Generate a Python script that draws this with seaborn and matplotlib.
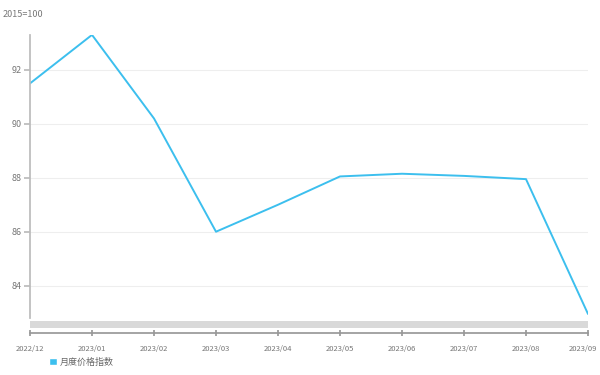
import matplotlib
matplotlib.use("Agg")
import matplotlib.pyplot as plt
import matplotlib.transforms as mtransforms
import seaborn as sns
import pandas as pd
from matplotlib.patches import Rectangle, Patch

# values (2015=100)
months = ["2022/12", "2023/01", "2023/02", "2023/03", "2023/04",
          "2023/05", "2023/06", "2023/07", "2023/08", "2023/09"]
index_values = [91.5, 93.3, 90.2, 86.0, 87.0, 88.05, 88.15, 88.07, 87.95, 82.95]
y_ticks = [84, 86, 88, 90, 92]
series_name = "月度价格指数"
unit_label = "2015=100"
line_color = "#3cbfee"

df = pd.DataFrame({"month": range(len(months)), "value": index_values})

sns.set_theme(style="white")
plt.rcParams["font.family"] = ["Noto Sans CJK SC", "DejaVu Sans"]

fig = plt.figure(figsize=(6, 3.75), dpi=100)
ax = fig.add_axes([0.05, 0.152, 0.93, 0.755])

sns.lineplot(data=df, x="month", y="value", ax=ax, color=line_color,
             linewidth=1.4, legend=False)

ax.set_xlim(0, len(months) - 1)
ax.set_ylim(82.8, 93.3)
ax.set_yticks(y_ticks)
ax.set_yticklabels([str(t) for t in y_ticks])
ax.set_xticks(range(len(months)))
ax.set_xticklabels(months)
ax.set_xlabel("")
ax.set_ylabel("")

for t in y_ticks:
    ax.axhline(t, color="#eeeeee", linewidth=0.8, zorder=0)

for side in ["top", "right"]:
    ax.spines[side].set_visible(False)
ax.spines["left"].set_color("#bbbbbb")
ax.spines["bottom"].set_color("#999999")
ax.spines["bottom"].set_position(("outward", 11))

ax.tick_params(axis="y", direction="out", length=4, color="#bbbbbb",
               labelsize=6.5, labelcolor="#777777", left=True, pad=2)
ax.tick_params(axis="x", direction="inout", length=5, color="#999999",
               labelsize=5.5, labelcolor="#777777", bottom=True, pad=6)

# keep the last month label inside the figure
last = ax.get_xticklabels()[-1]
last.set_horizontalalignment("right")
last.set_transform(last.get_transform() +
                   mtransforms.ScaledTranslation(9 / 100, 0, fig.dpi_scale_trans))

# grey slider band under the plot area
ax.add_patch(Rectangle((0, -0.034), 1, 0.022, transform=ax.transAxes,
                       facecolor="#d9d9d9", edgecolor="none", clip_on=False))

fig.text(0.005, 0.955, unit_label, fontsize=6.5, color="#777777")

leg = ax.legend(handles=[Patch(facecolor=line_color, label=series_name)],
                loc="upper left", bbox_to_anchor=(0.02, -0.11), frameon=False,
                fontsize=6.5, handlelength=0.8, handleheight=0.8,
                handletextpad=0.4)
for txt in leg.get_texts():
    txt.set_color("#666666")

fig.savefig("out.png", dpi=100)
